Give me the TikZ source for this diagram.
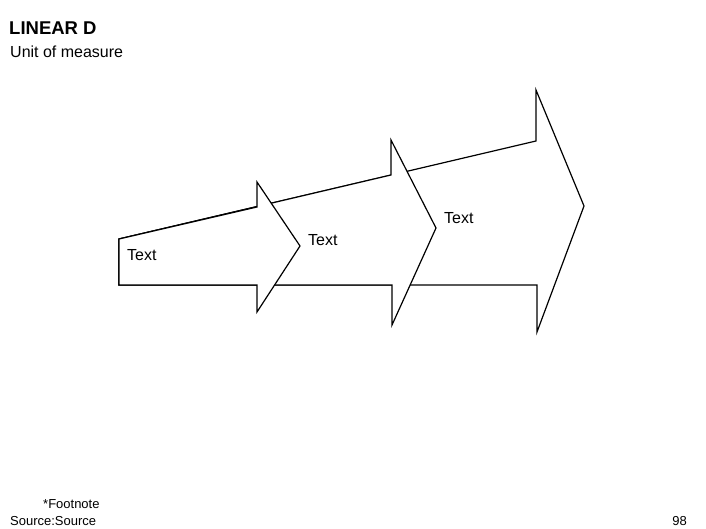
\documentclass[tikz,border=0pt]{standalone}
\usepackage{fontspec}
\setmainfont{Liberation Sans}
\tikzset{
  arrowshape/.style={draw=black, fill=white, line width=1.2pt, line join=miter},
  label/.style={inner sep=0pt, font=\fontsize{16}{19}\selectfont},
  small/.style={inner sep=0pt, font=\fontsize{13}{15}\selectfont}
}
\begin{document}
\begin{tikzpicture}[x=1pt, y=-1pt]
            \useasboundingbox (0,0) rectangle (706,529);
            % arrows, largest first
            \draw[arrowshape] (119,239) -- (536,141) -- (536,90) -- (584,206) -- (537,332) -- (537,285) -- (119,285) -- cycle;
            \draw[arrowshape] (119,239) -- (391,175) -- (391,140) -- (436,228) -- (392,325) -- (392,285) -- (119,285) -- cycle;
            \draw[arrowshape] (119,239) -- (257,207) -- (257,182) -- (300,246) -- (257,312) -- (257,285) -- (119,285) -- cycle;
            \node[label, anchor=base west] (t1) at (127,261) {Text};
            \node[label, anchor=base west] (t2) at (308,246) {Text};
            \node[label, anchor=base west] (t3) at (444,224) {Text};
            % heading
            \node[inner sep=0pt, anchor=base west, font=\fontsize{18.5}{22}\selectfont\bfseries] (title) at (9,35) {LINEAR D};
            \node[inner sep=0pt, anchor=base west, font=\fontsize{16}{19}\selectfont] (unit) at (10,58) {Unit of measure};
            % footer
            \node[small, anchor=base west] (foot) at (43,508) {*Footnote};
            \node[small, anchor=base west] (src) at (10,525) {Source:Source};
            \node[small, anchor=base east] (page) at (687,525) {98};
\end{tikzpicture}
\end{document}
